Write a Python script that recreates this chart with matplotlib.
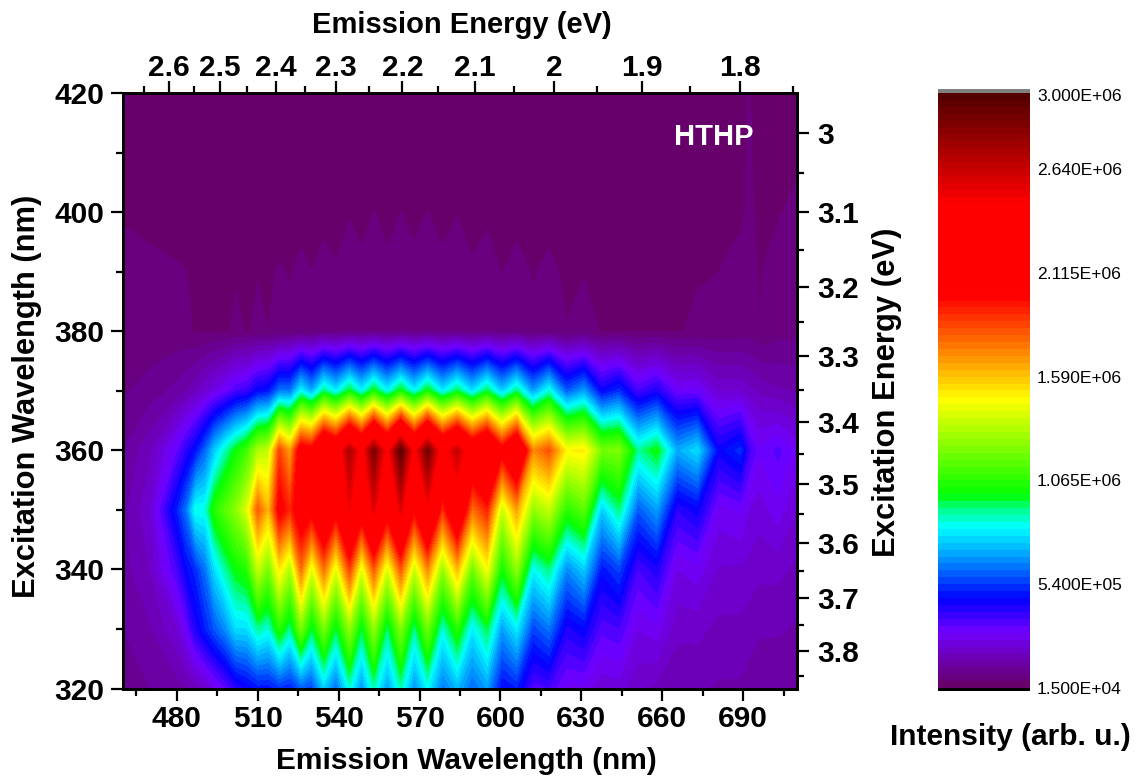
import matplotlib
matplotlib.use("Agg")
import matplotlib.pyplot as plt
import numpy as np
from matplotlib.colors import LinearSegmentedColormap, Normalize

plt.rcParams['font.family'] = ['Liberation Sans', 'DejaVu Sans']

# emission wavelength columns (nm), excitation rows (nm), intensity in units of 1e4
emission_nm = [460, 470,
               480, 483.5, 487, 490.5, 494, 498, 502, 506, 510, 514,
               518, 522, 526, 530, 534.5, 539, 544, 548.5, 553, 558,
               563, 568, 573, 578.5, 584, 589.5, 595, 600.5, 606, 612,
               618, 624.5, 631, 637.5, 644, 651, 658, 665.5, 673, 681,
               689, 692, 696, 703, 710]
excitation_nm = [320, 330, 340, 350, 360, 370, 380, 390, 400, 410, 420]

i320 = [10, 12,
        14, 15, 17, 20, 26, 32, 40, 44, 48, 48,
        52, 50, 58, 55, 75, 60, 85, 66, 88, 68,
        88, 66, 82, 62, 72, 60, 68, 46, 50, 34,
        36, 28, 28, 23, 24, 20, 18, 16, 16, 15,
        15, 14, 13, 12, 12]
i330 = [12, 15,
        22, 30, 42, 50, 58, 66, 78, 78, 90, 85,
        105, 90, 120, 95, 120, 95, 125, 95, 125, 92,
        122, 90, 118, 85, 105, 80, 95, 68, 80, 55,
        62, 42, 46, 34, 36, 26, 28, 20, 20, 18,
        18, 17, 16, 16, 15]
i340 = [14, 19,
        36, 46, 52, 62, 78, 90, 100, 105, 135, 120,
        150, 130, 175, 140, 175, 140, 185, 140, 180, 138,
        180, 135, 170, 125, 160, 118, 145, 100, 125, 82,
        92, 65, 75, 48, 55, 36, 42, 26, 28, 22,
        22, 21, 20, 20, 18]
i350 = [14, 22,
        50, 62, 85, 85, 105, 115, 125, 140, 180, 160,
        205, 190, 215, 205, 235, 205, 250, 212, 255, 210,
        255, 200, 245, 188, 230, 175, 192, 135, 165, 125,
        135, 105, 115, 75, 92, 58, 68, 40, 45, 28,
        30, 26, 24, 28, 22]
i360 = [12, 18,
        32, 40, 48, 60, 75, 88, 100, 110, 130, 135,
        185, 165, 210, 205, 245, 228, 272, 238, 287, 240,
        298, 240, 290, 235, 265, 225, 248, 205, 238, 170,
        182, 148, 150, 120, 122, 90, 100, 70, 78, 45,
        52, 38, 30, 34, 28]
i370 = [8, 10,
        13, 15, 18, 22, 26, 30, 36, 38, 46, 48,
        62, 62, 82, 70, 92, 80, 98, 82, 100, 82,
        100, 82, 100, 80, 95, 78, 95, 75, 92, 68,
        85, 58, 68, 45, 52, 36, 42, 30, 30, 22,
        22, 20, 18, 16, 15]
i380 = [6, 6,
        6, 5.5, 4.7, 4.6, 4.6, 4.7, 5.4, 4.8, 5.5, 5.0,
        5.5, 5.6, 6, 6, 7, 7, 8, 8, 8, 7.5,
        8, 7.5, 8, 7.5, 8, 7, 8, 6.5, 7, 5.4,
        6, 5.1, 5.8, 4.9, 4.8, 4.7, 4.7, 4.8, 5.4, 6,
        6.5, 7, 5.0, 7, 7.5]
i390 = [6, 5.8,
        5.2, 5.0, 4.5, 4.5, 4.5, 4.5, 4.8, 4.5, 4.9, 4.7,
        5.2, 4.8, 5.7, 5.0, 6.2, 5.2, 6.3, 5.7, 6.5, 5.7,
        6.5, 6.0, 6.5, 5.7, 6.3, 5.3, 6.2, 4.9, 6.0, 4.8,
        5.6, 4.5, 4.9, 4.5, 4.4, 4.3, 4.3, 4.4, 4.8, 5.0,
        6.6, 6.5, 4.7, 6.4, 6.8]
i400 = [4.7, 4,
        4, 4, 4, 4, 4, 4, 4, 4, 4, 4,
        4, 4, 4, 4, 4, 4, 4.8, 4, 5.05, 4,
        5.0, 4, 5.05, 4, 4.9, 4, 4.5, 4, 4, 4,
        4, 4, 4, 4, 4, 4, 4, 4, 4, 4.5,
        4.2, 5.5, 4.5, 4.8, 5.6]
i410 = [4.5, 3.5,
        3.5, 3.5, 3.5, 3.5, 3.5, 3.5, 3.5, 3.5, 3.5, 3.5,
        3.5, 3.5, 3.5, 3.5, 3.5, 3.5, 3.5, 3.5, 3.5, 3.5,
        3.5, 3.5, 3.5, 3.5, 3.5, 3.5, 3.5, 3.5, 3.5, 3.5,
        3.5, 3.5, 3.5, 3.5, 3.5, 3.5, 3.5, 3.5, 3.5, 3.5,
        3.5, 5.5, 3.5, 3.5, 4.5]
i420 = [5.5, 3,
        3, 3, 3, 3, 3, 3, 3, 3, 3, 3,
        3, 3, 3, 3, 3, 3, 3, 3, 3, 3,
        3, 3, 3, 3, 3, 3, 3, 3, 3, 3,
        3, 3, 3, 3, 3, 3, 3, 3, 3, 3,
        3, 5.5, 3, 3, 4]

# top and right axes
emission_ev = [2.6, 2.5, 2.4, 2.3, 2.2, 2.1, 2, 1.9, 1.8]
emission_ev_minor = [2.65, 2.55, 2.45, 2.35, 2.25, 2.15, 2.05, 1.95, 1.85, 1.75]
excitation_ev = [3, 3.1, 3.2, 3.3, 3.4, 3.5, 3.6, 3.7, 3.8]
excitation_ev_minor = [3.05, 3.15, 3.25, 3.35, 3.45, 3.55, 3.65, 3.75, 3.85]

# colour scale
cb_ticks = [1.5, 54, 106.5, 159, 211.5, 264, 301.5]
cb_labels = ['1.500E+04', '5.400E+05', '1.065E+06', '1.590E+06',
             '2.115E+06', '2.640E+06', '3.000E+06']
stop_values = [1.5, 30, 46.4, 64, 83, 93, 98.4, 147, 199.4, 247, 302]
stop_colors = ['#680066', '#7000ff', '#0000ff', '#0080ff', '#00ffff', '#00ff80',
               '#00ff00', '#ffff00', '#ff0000', '#ff0000', '#500000']

W, H = 1137, 782


def px_axes(left, top, right, bottom):
    return [left / W, 1 - bottom / H, (right - left) / W, (bottom - top) / H]


def style_ticks(a, which_axis, pad):
    a.tick_params(axis=which_axis, which='major', length=8.6, width=1.6, labelsize=21.5, pad=pad)
    a.tick_params(axis=which_axis, which='minor', length=4.8, width=1.6)


def axis_label(x, y, s, size, rotation=0):
    fig.text(x / W, 1 - y / H, s, rotation=rotation, ha='center', va='center',
             fontweight='bold', fontsize=size)


intensity = np.array([i320, i330, i340, i350, i360, i370, i380, i390, i400, i410, i420])

levels = np.arange(1.5, 303, 3.5)
cmap = LinearSegmentedColormap.from_list(
    'pl', [((v - 1.5) / 300.5, c) for v, c in zip(stop_values, stop_colors)], N=512)
norm = Normalize(1.5, 302)

fig = plt.figure(figsize=(W / 100, H / 100), dpi=100)
ax = fig.add_axes(px_axes(123, 93, 797, 688.5))
cs = ax.contourf(emission_nm, excitation_nm, intensity, levels=levels, cmap=cmap, norm=norm)
cs.set_edgecolor('face')
cs.set_linewidth(0.2)

ax.set_xlim(460, 710)
ax.set_ylim(320, 420)
ax.set_xticks(np.arange(480, 700, 30))
ax.set_xticks(np.arange(465, 711, 15), minor=True)
ax.set_yticks(np.arange(320, 421, 20))
ax.set_yticks(np.arange(330, 420, 20), minor=True)
style_ticks(ax, 'x', 3.5)
style_ticks(ax, 'y', 5)
for lab in ax.get_xticklabels() + ax.get_yticklabels():
    lab.set_fontweight('bold')

top = ax.twiny()
top.set_xlim(ax.get_xlim())
top.set_xticks([1240 / e for e in emission_ev])
top.set_xticklabels([str(e) for e in emission_ev], fontweight='bold')
top.set_xticks([1240 / e for e in emission_ev_minor], minor=True)
style_ticks(top, 'x', -0.5)

right = ax.twinx()
right.set_ylim(ax.get_ylim())
right.set_yticks([1240 / e for e in excitation_ev])
right.set_yticklabels([str(e) for e in excitation_ev], fontweight='bold')
right.set_yticks([1240 / e for e in excitation_ev_minor if 1240 / e > 320], minor=True)
style_ticks(right, 'y', 6)

for a in (ax, top, right):
    for s in a.spines.values():
        s.set_linewidth(1.8)

fig.text(714 / W, 1 - 137 / H, 'HTHP', color='white', ha='center', va='center',
         fontweight='bold', fontsize=21)

axis_label(466, 761, 'Emission Wavelength (nm)', 21.5)
axis_label(462, 25, 'Emission Energy (eV)', 21)
axis_label(27, 396, 'Excitation Wavelength (nm)', 22.2, 90)
axis_label(887, 392, 'Excitation Energy (eV)', 22.3, 90)
axis_label(1010, 737, 'Intensity (arb. u.)', 21.5)

# colour bar, with grey and black caps for out of range
cb = fig.add_axes(px_axes(938, 89, 1030, 691))
cb.pcolormesh([0, 1], levels, ((levels[:-1] + levels[1:]) / 2)[:, None], cmap=cmap, norm=norm)
cb.axhspan(levels[-1], 310, color='#808080', lw=0)
cb.axhspan(-5, levels[0], color='black', lw=0)
cb.set_xlim(0, 1)
cb.set_ylim(0.0, 304.5)
cb.set_xticks([])
cb.yaxis.tick_right()
cb.set_yticks(cb_ticks)
cb.set_yticklabels(cb_labels, fontsize=12.6)
cb.tick_params(axis='y', length=0, pad=5)
for s in cb.spines.values():
    s.set_visible(False)

fig.savefig('out.png', dpi=100)
